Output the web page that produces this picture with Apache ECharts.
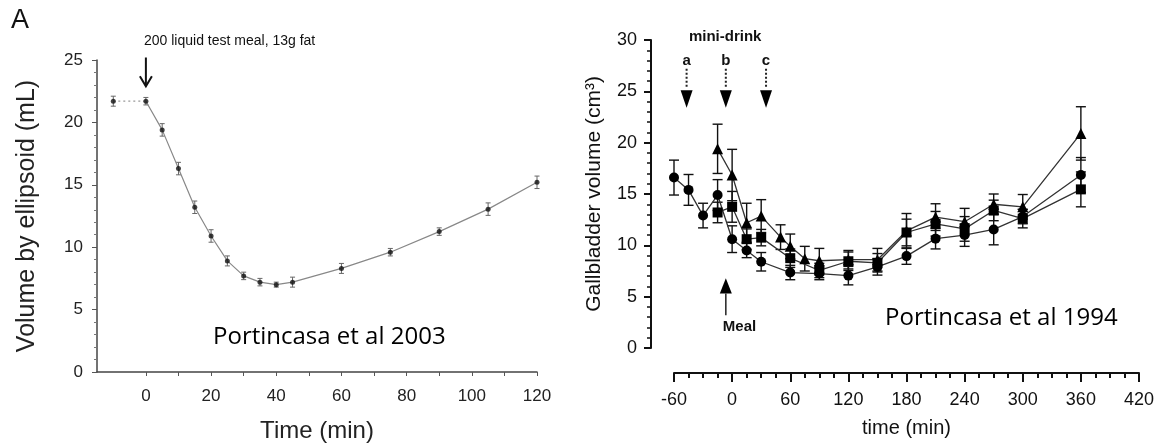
<!DOCTYPE html>
<html><head><meta charset="utf-8">
<script src="https://cdn.jsdelivr.net/npm/echarts@6/dist/echarts.min.js"></script>
<style>html,body{margin:0;padding:0;background:#fff}#c{width:1158px;height:448px}</style>
</head><body><div id="c"></div>
<script>
// ---------- Left panel: Portincasa et al 2003 ----------
const leftTime   = [-10, 0, 5, 10, 15, 20, 25, 30, 35, 40, 45, 60, 75, 90, 105, 120];
const leftVolume = [21.7, 21.7, 19.4, 16.3, 13.2, 10.9, 8.9, 7.7, 7.2, 7.0, 7.2, 8.3, 9.6, 11.25, 13.05, 15.2];
const leftErr    = [0.4, 0.3, 0.5, 0.5, 0.5, 0.5, 0.4, 0.3, 0.3, 0.2, 0.4, 0.4, 0.3, 0.3, 0.5, 0.5];
const leftXTickValues  = [0, 10, 20, 30, 40, 50, 60, 70, 80, 90, 100, 110, 120];
const leftXLabelValues = [0, 20, 40, 60, 80, 100, 120];
const leftMealArrow = [[0, 25.2, 22.9]]; // time, top, tip

// ---------- Right panel: Portincasa et al 1994 ----------
const circleTime = [-60, -45, -30, -15, 0, 15, 30, 60, 90, 120, 150, 180, 210, 240, 270, 300, 360];
const circleVol  = [16.6, 15.4, 12.9, 14.9, 10.6, 9.5, 8.4, 7.35, 7.25, 7.05, 7.9, 8.95, 10.65, 11.0, 11.55, 12.8, 16.85];
const circleErr  = [1.7, 1.5, 1.2, 1.5, 1.3, 0.7, 0.9, 0.7, 0.6, 0.9, 0.8, 0.8, 1.0, 1.1, 1.5, 0.7, 1.7];

const squareTime = [-15, 0, 15, 30, 60, 90, 120, 150, 180, 210, 240, 270, 300, 360];
const squareVol  = [13.2, 13.75, 10.6, 10.75, 8.75, 7.55, 8.45, 8.3, 11.25, 12.1, 11.6, 13.4, 12.6, 15.45];
const squareErr  = [1.0, 1.5, 1.0, 0.8, 0.9, 0.7, 0.9, 0.9, 1.3, 1.2, 1.2, 1.0, 0.9, 1.7];

const triangleTime = [-15, 0, 15, 30, 50, 60, 75, 90, 120, 150, 180, 210, 240, 270, 300, 360];
const triangleVol  = [19.4, 16.85, 12.2, 12.85, 10.8, 9.9, 8.7, 8.5, 8.6, 8.6, 11.4, 12.75, 12.3, 14.0, 13.75, 20.9];
const triangleErr  = [2.4, 2.5, 1.9, 1.6, 1.2, 1.2, 1.2, 1.2, 0.9, 1.1, 1.7, 1.3, 1.3, 1.0, 1.2, 2.6];

const miniDrinkTime   = [-47, -6.5, 35];
const miniDrinkLabels = ['a', 'b', 'c'];
const miniDrinkLevels = [28.0, 27.2, 25.3, 25.1, 23.4]; // label, dotted top, dotted bottom, head top, tip
const miniDrinkTitle  = [[-7.2, 30.3, 'mini-drink']];
const mealArrow = [[-6.5, 6.8, 5.3, 3.2, 2.1, 'Meal']]; // time, tip, head base, tail, label

const zip = (a, b) => a.map((v, i) => [v, b[i]]);

function errorBars(xi, yi, times, vals, errs, cap, color, width) {
  return {
    type: 'custom', xAxisIndex: xi, yAxisIndex: yi, silent: true, z: 1,
    data: times.map((t, i) => [t, vals[i] - errs[i], vals[i] + errs[i]]),
    encode: { x: 0, y: [1, 2] },
    renderItem(params, api) {
      const lo = api.coord([api.value(0), api.value(1)]);
      const hi = api.coord([api.value(0), api.value(2)]);
      const st = { stroke: color, lineWidth: width };
      return { type: 'group', children: [
        { type: 'line', shape: { x1: lo[0], y1: lo[1], x2: hi[0], y2: hi[1] }, style: st },
        { type: 'line', shape: { x1: lo[0] - cap, y1: lo[1], x2: lo[0] + cap, y2: lo[1] }, style: st },
        { type: 'line', shape: { x1: hi[0] - cap, y1: hi[1], x2: hi[0] + cap, y2: hi[1] }, style: st }
      ]};
    }
  };
}

const txt = '#111';
const option = {
  animation: false,
  backgroundColor: '#fff',
  textStyle: { fontFamily: 'Liberation Sans' },
  grid: [
    { left: 97, top: 60, width: 440, height: 312 },
    { left: 674, top: 40, width: 465, height: 308 }
  ],
  xAxis: [
    { gridIndex: 0, type: 'value', min: -15, max: 120,
      splitLine: { show: false },
      axisLine: { onZero: false, lineStyle: { color: '#444', width: 1.5 } },
      axisTick: { customValues: leftXTickValues, length: 4, lineStyle: { color: '#555' } },
      axisLabel: { customValues: leftXLabelValues, color: '#222', fontSize: 17, margin: 16 },
      name: 'Time (min)', nameLocation: 'middle', nameGap: 47,
      nameTextStyle: { color: '#222', fontSize: 24 } },
    { gridIndex: 1, type: 'value', min: -60, max: 420, interval: 60, offset: 25,
      splitLine: { show: false },
      axisLine: { onZero: false, lineStyle: { color: '#111', width: 2 } },
      axisTick: { length: 9, lineStyle: { color: '#111', width: 2 } },
      minorTick: { show: true, splitNumber: 4, length: 5, lineStyle: { color: '#111', width: 2 } },
      axisLabel: { color: txt, fontSize: 18, margin: 18 },
      name: 'time (min)', nameLocation: 'middle', nameGap: 45,
      nameTextStyle: { color: txt, fontSize: 20 } }
  ],
  yAxis: [
    { gridIndex: 0, type: 'value', min: 0, max: 25, interval: 5,
      splitLine: { show: false },
      axisLine: { show: true, onZero: false, lineStyle: { color: '#444', width: 1.5 } },
      axisTick: { show: true, length: 5, lineStyle: { color: '#555' } },
      minorTick: { show: true, splitNumber: 5, length: 3, lineStyle: { color: '#777' } },
      axisLabel: { color: '#222', fontSize: 17, margin: 14 },
      name: 'Volume by ellipsoid (mL)', nameLocation: 'middle', nameGap: 57,
      nameTextStyle: { color: '#222', fontSize: 25 } },
    { gridIndex: 1, type: 'value', min: 0, max: 30, interval: 5, offset: 23,
      splitLine: { show: false },
      axisLine: { show: true, onZero: false, lineStyle: { color: '#111', width: 2 } },
      axisTick: { show: true, length: 7, lineStyle: { color: '#111', width: 2 } },
      minorTick: { show: true, splitNumber: 5, length: 4, lineStyle: { color: '#111', width: 1.5 } },
      axisLabel: { color: txt, fontSize: 18, margin: 14 },
      name: 'Gallbladder volume (cm³)', nameLocation: 'middle', nameGap: 46,
      nameTextStyle: { color: txt, fontSize: 21 } }
  ],
  graphic: [
    { type: 'text', left: 11, top: 7, style: { text: 'A', font: '27px "Liberation Sans"', fill: '#111' } },
    { type: 'text', left: 144, top: 34, style: { text: '200 liquid test meal, 13g fat', font: '14px "Liberation Sans"', fill: '#111' } },
    { type: 'text', left: 213, top: 325, style: { text: 'Portincasa et al 2003', font: '24px "Open Sans"', fill: '#000' } },
    { type: 'text', left: 885, top: 306, style: { text: 'Portincasa et al 1994', font: '24px "Open Sans"', fill: '#000' } }
  ],
  series: [
    // ----- left panel -----
    errorBars(0, 0, leftTime, leftVolume, leftErr, 2.5, '#666', 1),
    { type: 'line', xAxisIndex: 0, yAxisIndex: 0, showSymbol: false, silent: true,
      data: zip(leftTime, leftVolume).slice(0, 2),
      lineStyle: { color: '#999', width: 1.2, type: [2, 3] } },
    { type: 'line', xAxisIndex: 0, yAxisIndex: 0, showSymbol: false, silent: true,
      data: zip(leftTime, leftVolume).slice(1),
      lineStyle: { color: '#888', width: 1.2 } },
    { type: 'scatter', xAxisIndex: 0, yAxisIndex: 0, symbol: 'circle', symbolSize: 5, z: 3,
      data: zip(leftTime, leftVolume), itemStyle: { color: '#111' } },
    { type: 'custom', xAxisIndex: 0, yAxisIndex: 0, silent: true, data: leftMealArrow,
      encode: { x: 0, y: [1, 2] },
      renderItem(params, api) {
        const top = api.coord([api.value(0), api.value(1)]);
        const tip = api.coord([api.value(0), api.value(2)]);
        const st = { stroke: '#111', lineWidth: 2, fill: null };
        return { type: 'group', children: [
          { type: 'line', shape: { x1: top[0], y1: top[1], x2: tip[0], y2: tip[1] }, style: st },
          { type: 'polyline', shape: { points: [[tip[0] - 6, tip[1] - 10], [tip[0], tip[1]], [tip[0] + 6, tip[1] - 10]] }, style: st }
        ]};
      } },
    // ----- right panel -----
    errorBars(1, 1, circleTime, circleVol, circleErr, 5, '#111', 1.4),
    errorBars(1, 1, squareTime, squareVol, squareErr, 5, '#111', 1.4),
    errorBars(1, 1, triangleTime, triangleVol, triangleErr, 5, '#111', 1.4),
    { type: 'line', xAxisIndex: 1, yAxisIndex: 1, symbol: 'circle', symbolSize: 10, z: 3,
      data: zip(circleTime, circleVol), itemStyle: { color: '#000' }, lineStyle: { color: '#333', width: 1.3 } },
    { type: 'line', xAxisIndex: 1, yAxisIndex: 1, symbol: 'rect', symbolSize: 10, z: 3,
      data: zip(squareTime, squareVol), itemStyle: { color: '#000' }, lineStyle: { color: '#333', width: 1.3 } },
    { type: 'line', xAxisIndex: 1, yAxisIndex: 1, symbol: 'triangle', symbolSize: 11, z: 3,
      data: zip(triangleTime, triangleVol), itemStyle: { color: '#000' }, lineStyle: { color: '#333', width: 1.3 } },
    { type: 'custom', xAxisIndex: 1, yAxisIndex: 1, silent: true, z: 4,
      data: miniDrinkTime.map((t, i) => [t].concat(miniDrinkLevels).concat([miniDrinkLabels[i]])),
      encode: { x: 0, y: [1, 5] },
      renderItem(params, api) {
        const t = api.value(0);
        const lab = api.coord([t, api.value(1)]);
        const dTop = api.coord([t, api.value(2)]);
        const dBot = api.coord([t, api.value(3)]);
        const hTop = api.coord([t, api.value(4)]);
        const tip = api.coord([t, api.value(5)]);
        return { type: 'group', children: [
          { type: 'text', style: { text: miniDrinkLabels[params.dataIndex], x: lab[0], y: lab[1], align: 'center', verticalAlign: 'middle',
              font: 'bold 15px "Liberation Sans"', fill: '#111' } },
          { type: 'line', shape: { x1: dTop[0], y1: dTop[1], x2: dBot[0], y2: dBot[1] }, style: { stroke: '#222', lineWidth: 2, lineDash: [2, 2] } },
          { type: 'polygon', shape: { points: [[hTop[0] - 6, hTop[1]], [hTop[0] + 6, hTop[1]], [tip[0], tip[1]]] }, style: { fill: '#000' } }
        ]};
      } },
    { type: 'custom', xAxisIndex: 1, yAxisIndex: 1, silent: true, z: 4, data: miniDrinkTitle,
      encode: { x: 0, y: 1 },
      renderItem(params, api) {
        const p = api.coord([api.value(0), api.value(1)]);
        return { type: 'text', style: { text: miniDrinkTitle[params.dataIndex][2], x: p[0], y: p[1], align: 'center', verticalAlign: 'middle',
          font: 'bold 15px "Liberation Sans"', fill: '#111' } };
      } },
    { type: 'custom', xAxisIndex: 1, yAxisIndex: 1, silent: true, z: 4, data: mealArrow,
      encode: { x: 0, y: [1, 3] },
      renderItem(params, api) {
        const t = api.value(0);
        const tip = api.coord([t, api.value(1)]);
        const base = api.coord([t, api.value(2)]);
        const tail = api.coord([t, api.value(3)]);
        const lab = api.coord([t, api.value(4)]);
        return { type: 'group', children: [
          { type: 'polygon', shape: { points: [[base[0] - 6, base[1]], [base[0] + 6, base[1]], [tip[0], tip[1]]] }, style: { fill: '#000' } },
          { type: 'line', shape: { x1: base[0], y1: base[1], x2: tail[0], y2: tail[1] }, style: { stroke: '#222', lineWidth: 1.5 } },
          { type: 'text', style: { text: mealArrow[params.dataIndex][5], x: lab[0] - 3, y: lab[1], align: 'left', verticalAlign: 'middle',
              font: 'bold 15px "Liberation Sans"', fill: '#111' } }
        ]};
      } }
  ]
};
const chart = echarts.init(document.getElementById('c'), null, { renderer: 'canvas' });
chart.setOption(option);
</script>
</body></html>
